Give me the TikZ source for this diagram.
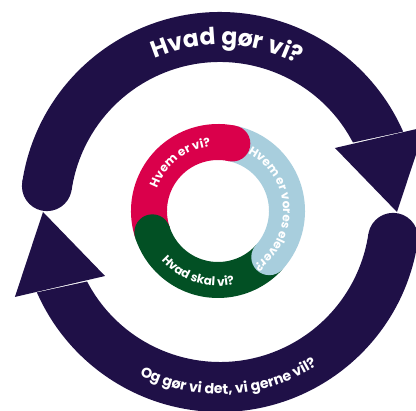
\documentclass[tikz,border=0pt]{standalone}
\usepackage{fontspec}
\setmainfont{Poppins}
\usetikzlibrary{decorations.text}
\definecolor{navy}{RGB}{31,16,71}
\definecolor{crim}{RGB}{218,0,75}
\definecolor{lblue}{RGB}{168,206,221}
\definecolor{dgreen}{RGB}{2,80,36}
\newcommand\bigtxt{\color{white}\bfseries\fontsize{23.5}{23.5}\selectfont}
\newcommand\medtxt{\color{white}\bfseries\fontsize{14.2}{14.2}\selectfont}
\newcommand\smltxt{\color{white}\bfseries\fontsize{12}{12}\selectfont}
\tikzset{
  bandtext/.style={decorate, decoration={text along path, text align=center, text={#1}}},
  shaft/.style={fill=navy},
  seg/.style={line width=36pt},
}
\begin{document}
\begin{tikzpicture}[x=1pt,y=1pt]
\useasboundingbox (0,0) rectangle (416,411);
\fill[white] (0,0) rectangle (416,411);
\clip (0,0) rectangle (416,411);
% big outer cycle
\begin{scope}[shift={(220,199)}]
  \foreach \r in {0,180}{
  \begin{scope}[rotate=\r]
    \fill[shaft] (171.5:200pt) arc[start angle=171.5, end angle=23.7, radius=200pt]
      -- (27.6:150pt) arc[start angle=27.6, end angle=171.5, radius=150pt] -- cycle;
    \fill[shaft] (171.5:175pt) circle[radius=25pt];
    \fill[shaft] (29.1:131.6pt) -- (22.5:222pt) -- (0:177pt) -- cycle;
  \end{scope}}
  \path[bandtext={|\bigtxt|Hvad gør vi?}] (147.7:167pt) arc[start angle=147.7, end angle=27.7, radius=167pt];
  \path[bandtext={|\medtxt|Og gør vi det, vi gerne vil?}] (213:182pt) arc[start angle=213, end angle=333, radius=182pt];
\end{scope}
% inner ring
\begin{scope}[shift={(218,200)}]
  \draw[seg, crim] (198:69pt) arc[start angle=198, end angle=78, radius=69pt];
  \draw[seg, lblue] (78:69pt) arc[start angle=78, end angle=-42, radius=69pt];
  \draw[seg, dgreen] (-42:69pt) arc[start angle=-42, end angle=-162, radius=69pt];
  \fill[crim] (78:69pt) circle[radius=18pt];
  \fill[lblue] (-42:69pt) circle[radius=18pt];
  \fill[dgreen] (198:69pt) circle[radius=18pt];
  \path[bandtext={|\smltxt|Hvem er vi?}] (188:65pt) arc[start angle=188, end angle=68, radius=65pt];
  \path[bandtext={|\smltxt|Hvem er vores elever?}] (75:65pt) arc[start angle=75, end angle=-69, radius=65pt];
  \path[bandtext={|\smltxt|Hvad skal vi?}] (192:75pt) arc[start angle=192, end angle=312, radius=75pt];
\end{scope}
\end{tikzpicture}
\end{document}
